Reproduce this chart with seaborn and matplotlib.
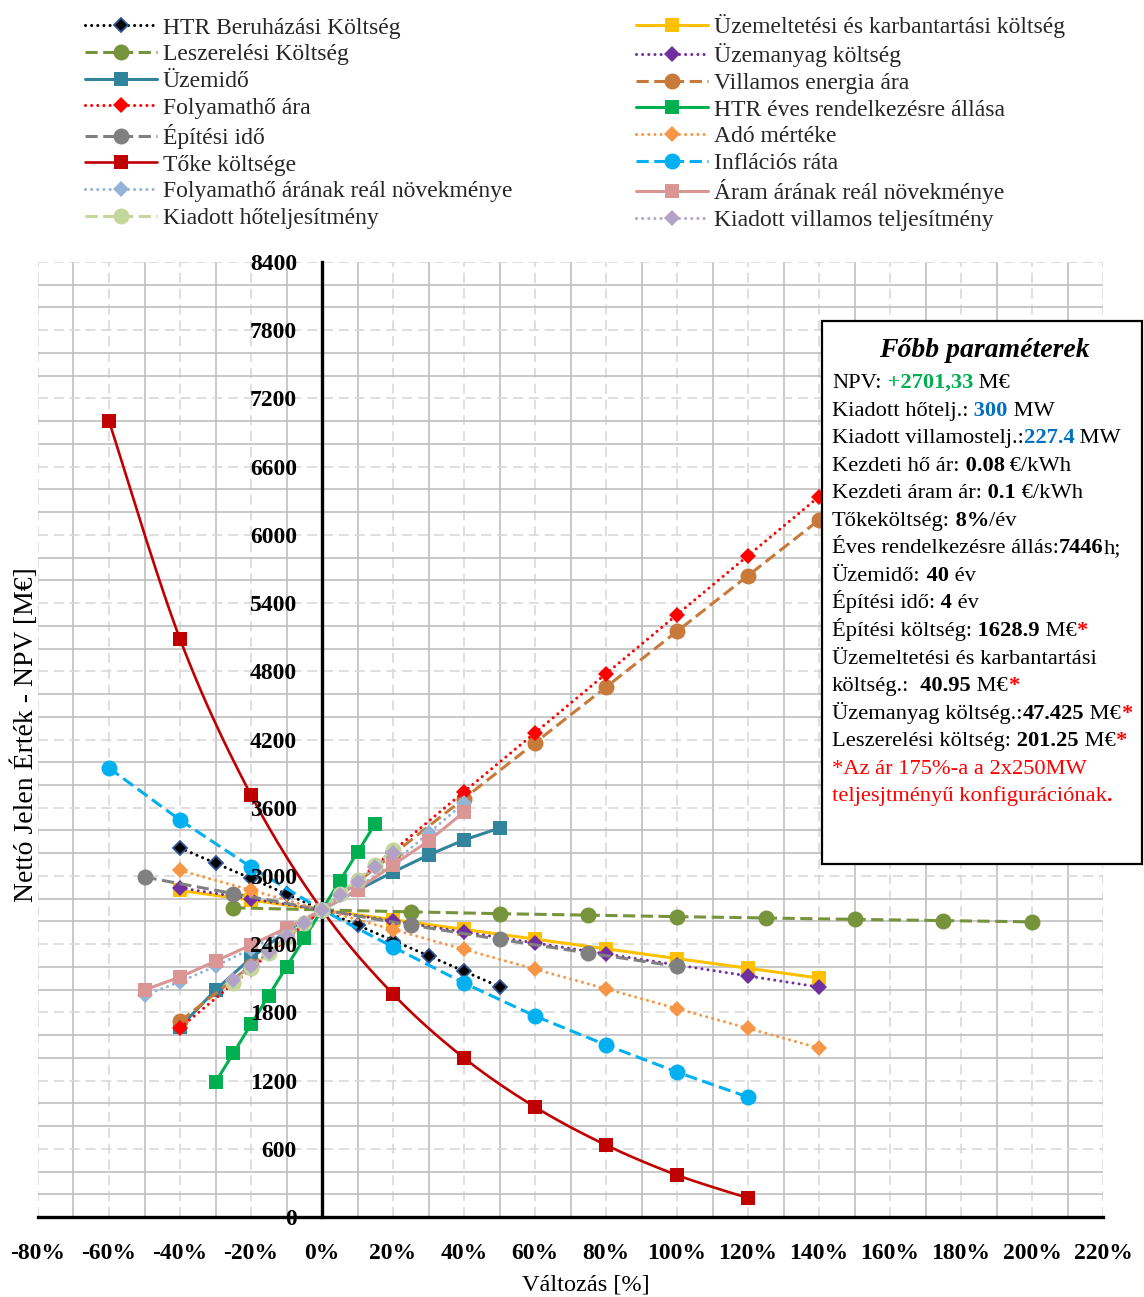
import numpy as np
import matplotlib
matplotlib.use("Agg")
import matplotlib.pyplot as plt
from matplotlib.lines import Line2D
from matplotlib.patches import Rectangle
from matplotlib.ticker import MultipleLocator, FuncFormatter
import seaborn as sns

sns.set_theme(style="white")
plt.rcParams['font.family'] = ['Liberation Serif', 'DejaVu Serif']
plt.rcParams['axes.unicode_minus'] = False

# ---- sensitivity data: change [%] -> NPV [M€] ----
htr_beruh_x = [-40, -30, -20, -10, 0, 10, 20, 30, 40, 50]
htr_beruh_y = [3246, 3112, 2978, 2840, 2701, 2567, 2432, 2298, 2162, 2026]

leszer_x = [-25, 0, 25, 50, 75, 100, 125, 150, 175, 200]
leszer_y = [2720, 2701, 2684, 2668, 2655, 2642, 2630, 2618, 2607, 2596]

uzemido_x = [-40, -30, -20, -10, 0, 10, 20, 30, 40, 50]
uzemido_y = [1671, 1997, 2278, 2515, 2701, 2875, 3034, 3184, 3316, 3421]

folyho_x = [-40, -20, 0, 20, 40, 60, 80, 100, 120, 140]
folyho_y = [1663, 2182, 2701, 3220, 3740, 4259, 4778, 5298, 5817, 6336]

epit_ido_x = [-50, -25, 0, 25, 50, 75, 100]
epit_ido_y = [2990, 2845, 2701, 2568, 2442, 2322, 2205]

toke_x = [-60, -40, -20, 0, 20, 40, 60, 80, 100, 120]
toke_y = [7001, 5084, 3712, 2701, 1961, 1399, 968, 633, 369, 167]

folyho_real_x = [-50, -40, -30, -20, -10, 0, 10, 20, 30, 40]
folyho_real_y = [1950, 2070, 2205, 2360, 2525, 2701, 2895, 3115, 3375, 3640]

kiad_ho_x = [-25, -20, -15, -10, -5, 0, 5, 10, 15, 20]
kiad_ho_y = [2060, 2190, 2320, 2462, 2585, 2701, 2840, 2965, 3095, 3230]

uzemelt_x = [-40, -20, 0, 20, 40, 60, 80, 100, 120, 140]
uzemelt_y = [2872, 2787, 2701, 2615, 2530, 2444, 2359, 2273, 2188, 2102]

uzemanyag_x = [-40, -20, 0, 20, 40, 60, 80, 100, 120, 140]
uzemanyag_y = [2895, 2798, 2701, 2604, 2507, 2410, 2314, 2217, 2120, 2023]

villamos_x = [-40, -20, 0, 20, 40, 60, 80, 100, 120, 140]
villamos_y = [1721, 2211, 2701, 3191, 3681, 4171, 4661, 5151, 5641, 6131]

htr_eves_x = [-30, -25, -20, -15, -10, -5, 0, 5, 10, 15]
htr_eves_y = [1185, 1440, 1694, 1948, 2200, 2452, 2701, 2955, 3208, 3460]

ado_x = [-40, -20, 0, 20, 40, 60, 80, 100, 120, 140]
ado_y = [3048, 2875, 2701, 2528, 2354, 2180, 2007, 1833, 1660, 1486]

inflacio_x = [-60, -40, -20, 0, 20, 40, 60, 80, 100, 120]
inflacio_y = [3949, 3492, 3078, 2701, 2375, 2058, 1768, 1513, 1275, 1055]

aram_real_x = [-50, -40, -30, -20, -10, 0, 10, 20, 30, 40]
aram_real_y = [1997, 2111, 2250, 2393, 2542, 2701, 2880, 3096, 3307, 3562]

kiad_vill_x = [-25, -20, -15, -10, -5, 0, 5, 10, 15, 20]
kiad_vill_y = [2085, 2205, 2330, 2470, 2590, 2701, 2830, 2950, 3080, 3205]

# ---- line styles ----
DOT = (0, (0.01, 2.0))
DASH = (0, (4.0, 1.8))
SOLID = '-'

# name, x, y, colour, linestyle, marker, marker size, marker edge colour, smooth
series = [
    ("HTR Beruházási Költség", htr_beruh_x, htr_beruh_y, "#000000", DOT, "D", 7.0, "#2F5597", False),
    ("Üzemeltetési és karbantartási költség", uzemelt_x, uzemelt_y, "#FFC000", SOLID, "s", 10.5, None, False),
    ("Leszerelési Költség", leszer_x, leszer_y, "#77933C", DASH, "o", 11.5, None, False),
    ("Üzemanyag költség", uzemanyag_x, uzemanyag_y, "#7030A0", DOT, "D", 8.0, None, False),
    ("Üzemidő", uzemido_x, uzemido_y, "#31849B", SOLID, "s", 10.5, None, False),
    ("Villamos energia ára", villamos_x, villamos_y, "#C77A3A", DASH, "o", 11.5, None, False),
    ("Folyamathő ára", folyho_x, folyho_y, "#FF0000", DOT, "D", 8.5, None, False),
    ("HTR éves rendelkezésre állása", htr_eves_x, htr_eves_y, "#00B050", SOLID, "s", 10.5, None, False),
    ("Építési idő", epit_ido_x, epit_ido_y, "#808080", DASH, "o", 11.5, None, False),
    ("Adó mértéke", ado_x, ado_y, "#F79646", DOT, "D", 8.0, None, False),
    ("Tőke költsége", toke_x, toke_y, "#C00000", SOLID, "s", 10.5, None, True),
    ("Inflációs ráta", inflacio_x, inflacio_y, "#00B0F0", DASH, "o", 11.5, None, False),
    ("Folyamathő árának reál növekménye", folyho_real_x, folyho_real_y, "#95B3D7", DOT, "D", 8.0, None, False),
    ("Áram árának reál növekménye", aram_real_x, aram_real_y, "#D99694", SOLID, "s", 10.5, None, False),
    ("Kiadott hőteljesítmény", kiad_ho_x, kiad_ho_y, "#C3D69B", DASH, "o", 11.5, None, False),
    ("Kiadott villamos teljesítmény", kiad_vill_x, kiad_vill_y, "#B3A2C7", DOT, "D", 8.5, None, False),
]

legend_col1 = ["HTR Beruházási Költség", "Leszerelési Költség", "Üzemidő", "Folyamathő ára",
               "Építési idő", "Tőke költsége", "Folyamathő árának reál növekménye",
               "Kiadott hőteljesítmény"]
legend_col2 = ["Üzemeltetési és karbantartási költség", "Üzemanyag költség", "Villamos energia ára",
               "HTR éves rendelkezésre állása", "Adó mértéke", "Inflációs ráta",
               "Áram árának reál növekménye", "Kiadott villamos teljesítmény"]


def catmull_rom(xs, ys, n=24):
    p = np.column_stack([xs, ys]).astype(float)
    p = np.vstack([p[0], p, p[-1]])
    out = []
    t = np.linspace(0, 1, n, endpoint=False)[:, None]
    for i in range(1, len(p) - 2):
        p0, p1, p2, p3 = p[i - 1], p[i], p[i + 1], p[i + 2]
        seg = 0.5 * (2 * p1 + (-p0 + p2) * t + (2 * p0 - 5 * p1 + 4 * p2 - p3) * t ** 2
                     + (-p0 + 3 * p1 - 3 * p2 + p3) * t ** 3)
        out.append(seg)
    out.append(p[-2][None])
    c = np.vstack(out)
    return c[:, 0], c[:, 1]


W, H = 1144, 1297
fig = plt.figure(figsize=(W / 100, H / 100), dpi=100)
fig.patch.set_facecolor("white")

L, R, T, B = 38, 1103, 262, 1217
rect = [L / W, (H - B) / H, (R - L) / W, (B - T) / H]

XMIN, XMAX, YMIN, YMAX = -80, 220, 0, 8400

# background axes carrying only the grid
axg = fig.add_axes(rect, zorder=0)
axg.set_xlim(XMIN, XMAX)
axg.set_ylim(YMIN, YMAX)
axg.xaxis.set_major_locator(MultipleLocator(20))
axg.xaxis.set_minor_locator(MultipleLocator(10))
axg.yaxis.set_major_locator(MultipleLocator(600))
axg.yaxis.set_minor_locator(MultipleLocator(200))
axg.grid(which="major", color="#d9d9d9", linewidth=1.2, linestyle=(0, (6, 3.5)))
axg.grid(which="minor", color="#bfbfbf", linewidth=1.2, linestyle="-")
axg.tick_params(which="both", length=0, labelbottom=False, labelleft=False)
for s in axg.spines.values():
    s.set_visible(False)
axg.set_facecolor("white")

# main axes with the series
ax = fig.add_axes(rect, zorder=1)
ax.patch.set_visible(False)

handles = {}
for k, (name, xs, ys, col, ls, mk, ms, mec, smooth) in enumerate(series):
    lw = 1.9 if smooth else 2.2
    capstyle = "round" if ls is DOT else "butt"
    edge = mec if mec is not None else col
    mew = 1.3 if mec is not None else 0.0
    z = 3 + k * 0.01
    if smooth:
        sx, sy = catmull_rom(xs, ys)
        sns.lineplot(x=sx, y=sy, ax=ax, sort=False, estimator=None, color=col,
                     linewidth=lw, zorder=z)
        sns.lineplot(x=xs, y=ys, ax=ax, sort=False, estimator=None, color=col,
                     linestyle="none", marker=mk, markersize=ms, markerfacecolor=col,
                     markeredgecolor=edge, markeredgewidth=mew, zorder=z)
    else:
        sns.lineplot(x=xs, y=ys, ax=ax, sort=False, estimator=None, color=col,
                     linewidth=lw, linestyle=ls, dash_capstyle=capstyle,
                     marker=mk, markersize=ms, markerfacecolor=col,
                     markeredgecolor=edge, markeredgewidth=mew, zorder=z)
    handles[name] = Line2D([], [], color=col, linewidth=lw, linestyle=ls,
                           dash_capstyle=capstyle, marker=mk, markersize=ms,
                           markerfacecolor=col, markeredgecolor=edge, markeredgewidth=mew)

ax.set_xlim(XMIN, XMAX)
ax.set_ylim(YMIN, YMAX)
ax.set_xlabel("")
ax.set_ylabel("")
ax.xaxis.set_major_locator(MultipleLocator(20))
ax.yaxis.set_major_locator(MultipleLocator(600))
ax.xaxis.set_major_formatter(FuncFormatter(lambda v, p: f"{int(round(v))}%"))
ax.yaxis.set_major_formatter(FuncFormatter(lambda v, p: f"{int(round(v))}"))
ax.spines["top"].set_visible(False)
ax.spines["right"].set_visible(False)
ax.spines["left"].set_position(("data", 0))
ax.spines["left"].set_linewidth(2.4)
ax.spines["bottom"].set_linewidth(2.4)
ax.spines["left"].set_color("black")
ax.spines["bottom"].set_color("black")
ax.tick_params(axis="both", which="major", direction="out", length=5, width=2.2,
               color="black", labelsize=17, labelcolor="black")
ax.tick_params(axis="y", pad=13)
ax.tick_params(axis="x", pad=14)
ax.xaxis.set_zorder(5)
ax.yaxis.set_zorder(5)
for lab in ax.get_xticklabels() + ax.get_yticklabels():
    lab.set_fontweight("bold")

# legends, two columns
leg_kw = dict(frameon=False, fontsize=17, handlelength=3.05, handletextpad=0.25,
              labelspacing=0.22, borderpad=0, borderaxespad=0, numpoints=1,
              loc="upper left", bbox_transform=fig.transFigure)
leg1 = fig.legend([handles[n] for n in legend_col1], legend_col1,
                  bbox_to_anchor=(85 / W, 1 - 17 / H), **leg_kw)
leg2 = fig.legend([handles[n] for n in legend_col2], legend_col2,
                  bbox_to_anchor=(636 / W, 1 - 14 / H), **leg_kw)

# overlay in pixel coordinates for labels and the parameter box
ov = fig.add_axes([0, 0, 1, 1], zorder=10)
ov.set_xlim(0, W)
ov.set_ylim(H, 0)
ov.axis("off")
ov.patch.set_visible(False)

ov.text(586, 1285, "Változás [%]", ha="center", va="center", fontsize=17.5, color="black")
ov.text(25, 735, "Nettó Jelen Érték - NPV [M€]", ha="center", va="center",
        rotation=90, fontsize=20, color="black")

ov.add_patch(Rectangle((822, 321), 320, 543, facecolor="white", edgecolor="black",
                       linewidth=1.6, zorder=1))

ov.text(984, 357, "Főbb paraméterek", ha="center", va="baseline", fontsize=20,
        fontweight="bold", fontstyle="italic", color="black", zorder=2)

GREEN, BLUE, RED, K = "#00B050", "#0070C0", "#FF0000", "black"
info_lines = [
    [("NPV:", K, "normal"), (" +2701,33", GREEN, "bold"), (" M€", K, "normal")],
    [("Kiadott hőtelj.:", K, "normal"), (" 300", BLUE, "bold"), (" MW", K, "normal")],
    [("Kiadott villamostelj.:", K, "normal"), ("227.4", BLUE, "bold"), (" MW", K, "normal")],
    [("Kezdeti hő ár:", K, "normal"), (" 0.08", K, "bold"), (" €/kWh", K, "normal")],
    [("Kezdeti áram ár:", K, "normal"), (" 0.1", K, "bold"), (" €/kWh", K, "normal")],
    [("Tőkeköltség:", K, "normal"), (" 8%", K, "bold"), ("/év", K, "normal")],
    [("Éves rendelkezésre állás:", K, "normal"), ("7446", K, "bold"), ("h;", K, "normal")],
    [("Üzemidő:", K, "normal"), (" 40", K, "bold"), (" év", K, "normal")],
    [("Építési idő:", K, "normal"), (" 4", K, "bold"), (" év", K, "normal")],
    [("Építési költség:", K, "normal"), (" 1628.9", K, "bold"), (" M€", K, "normal"), ("*", RED, "bold")],
    [("Üzemeltetési és karbantartási", K, "normal")],
    [("költség.:", K, "normal"), ("  40.95", K, "bold"), (" M€", K, "normal"), ("*", RED, "bold")],
    [("Üzemanyag költség.:", K, "normal"), ("47.425", K, "bold"), (" M€", K, "normal"), ("*", RED, "bold")],
    [("Leszerelési költség:", K, "normal"), (" 201.25", K, "bold"), (" M€", K, "normal"), ("*", RED, "bold")],
    [("*Az ár 175%-a a 2x250MW", RED, "normal")],
    [("teljesjtményű konfigurációnak", RED, "normal"), (".", RED, "bold")],
]

FS = 16.2
base_y = 388
step = 27.55
for i, segs in enumerate(info_lines):
    y = base_y + i * step
    s0, c0, w0 = segs[0]
    prev = ov.text(832, y, s0, ha="left", va="baseline", fontsize=FS, color=c0,
                   fontweight=w0, zorder=2)
    # each further piece starts where the previous one ends
    for s, col, wt in segs[1:]:
        prev = ov.annotate(s, xy=(1, 0), xycoords=prev, ha="left", va="bottom",
                           fontsize=FS, color=col, fontweight=wt, zorder=2)

fig.savefig("out.png", dpi=100)
